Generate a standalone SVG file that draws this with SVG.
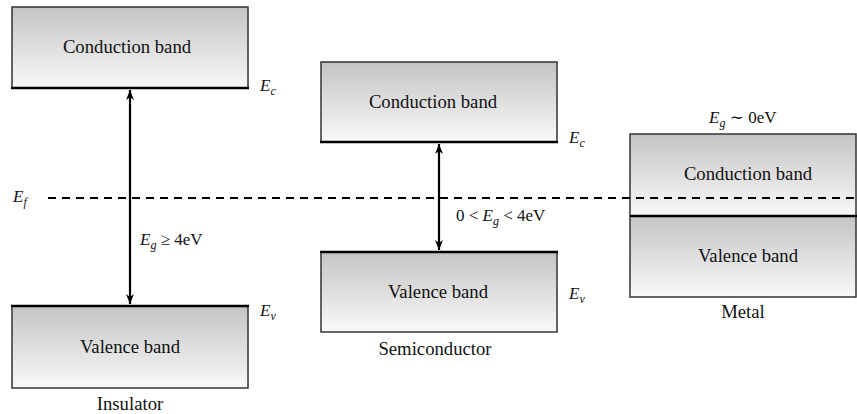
<svg xmlns="http://www.w3.org/2000/svg" width="857" height="414" viewBox="0 0 857 414">
<defs>
<linearGradient id="g" x1="0" y1="0" x2="0" y2="1">
<stop offset="0" stop-color="#c4c4c4"/>
<stop offset="1" stop-color="#f9f9f9"/>
</linearGradient>
<marker id="ah" viewBox="0 0 10 10" refX="10" refY="5" markerWidth="10" markerHeight="10" markerUnits="userSpaceOnUse" orient="auto-start-reverse">
<path d="M0,1 L10,5 L0,9 L3,5 Z" fill="#000"/>
</marker>
</defs>
<style>
.band{fill:url(#g);stroke:#333;stroke-width:1.5}
.edge{stroke:#000;stroke-width:2.5}
text{font-family:'Liberation Serif','DejaVu Serif','Times New Roman',serif;font-size:17px;fill:#111}
.t{text-anchor:middle;font-size:18.7px}
.m{font-style:italic}
.s{font-size:12px}
.n{font-style:normal}
.arr{stroke:#000;stroke-width:2.2;fill:none;marker-start:url(#ah);marker-end:url(#ah)}
</style>
<g id="ins-cb">
<rect class="band" x="12" y="7" width="236" height="81"/>
<line class="edge" x1="11" y1="88" x2="249" y2="88"/>
<text class="t" x="127" y="53">Conduction band</text>
<text class="m" x="260" y="91">E<tspan class="s" dy="4">c</tspan></text>
</g>
<g id="ins-vb">
<rect class="band" x="12" y="306" width="236" height="82"/>
<line class="edge" x1="11" y1="306" x2="249" y2="306"/>
<text class="t" x="130" y="353">Valence band</text>
<text class="m" x="260" y="316">E<tspan class="s" dy="4">v</tspan></text>
<text class="t" x="130" y="410">Insulator</text>
</g>
<g id="sem-cb">
<rect class="band" x="321" y="62" width="236" height="80"/>
<line class="edge" x1="320" y1="142" x2="558" y2="142"/>
<text class="t" x="433" y="108">Conduction band</text>
<text class="m" x="569" y="143">E<tspan class="s" dy="4">c</tspan></text>
</g>
<g id="sem-vb">
<rect class="band" x="321" y="252" width="236" height="80"/>
<line class="edge" x1="320" y1="252" x2="558" y2="252"/>
<text class="t" x="438" y="298">Valence band</text>
<text class="m" x="569" y="299">E<tspan class="s" dy="4">v</tspan></text>
<text class="t" x="435" y="355">Semiconductor</text>
</g>
<g id="metal">
<rect class="band" x="630" y="134" width="226" height="82"/>
<rect class="band" x="630" y="216" width="226" height="81"/>
<line class="edge" x1="630" y1="216" x2="857" y2="216"/>
<text class="t" x="748" y="180">Conduction band</text>
<text class="t" x="748" y="262">Valence band</text>
<text class="m" x="709" y="123">E<tspan class="s" dy="4">g</tspan><tspan class="n" dy="-4"> ∼ 0eV</tspan></text>
<text class="t" x="743" y="318">Metal</text>
</g>
<g id="fermi">
<line x1="48" y1="198" x2="857" y2="198" stroke="#000" stroke-width="1.8" stroke-dasharray="8,6"/>
<text class="m" x="13" y="202">E<tspan class="s" dy="4">f</tspan></text>
</g>
<g id="connectors">
<line class="arr" x1="130" y1="90" x2="130" y2="304"/>
<line class="arr" x1="439" y1="144" x2="439" y2="250"/>
</g>
<g id="labels">
<text class="m" x="140" y="245">E<tspan class="s" dy="4">g</tspan><tspan class="n" dy="-4"> ≥ 4eV</tspan></text>
<text class="m" x="456" y="221"><tspan class="n">0 &lt; </tspan>E<tspan class="s" dy="4">g</tspan><tspan class="n" dy="-4"> &lt; 4eV</tspan></text>
</g>
</svg>
